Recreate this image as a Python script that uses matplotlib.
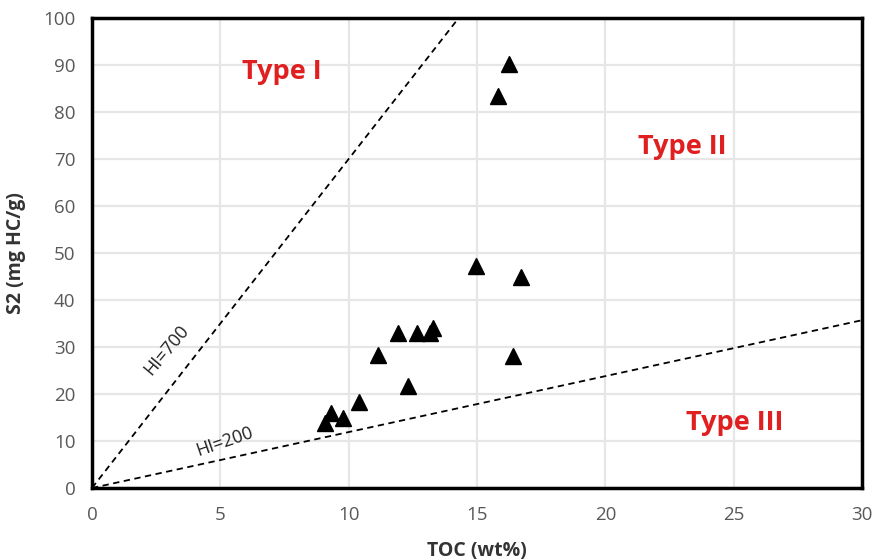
import matplotlib
matplotlib.use("Agg")
import matplotlib.pyplot as plt
import numpy as np

# Data
toc = [16.25, 15.8, 14.95, 16.7, 16.4, 13.27, 13.15, 12.68, 11.92, 11.16, 12.31, 10.42, 9.33, 9.79, 9.08]
s2 = [90.3, 83.5, 47.2, 45.0, 28.0, 34.0, 33.0, 33.0, 33.0, 28.4, 21.7, 18.2, 15.9, 14.8, 13.8]

line_labels = ["HI=700", "HI=200"]
line_slopes = [7.0, 1.19]   # S2 per unit TOC as drawn

region_labels = ["Type I", "Type II", "Type III"]
region_x = [7.4, 23.0, 25.05]
region_y = [88.5, 72.6, 13.8]

xticks = [0, 5, 10, 15, 20, 25, 30]
yticks = list(range(0, 101, 10))

plt.rcParams['font.family'] = ['Open Sans', 'DejaVu Sans']

fig = plt.figure(figsize=(8.76, 5.59), dpi=100)
ax = fig.add_axes([92/876, 71/559, 770/876, 470/559])

ax.set_xlim(0, 30)
ax.set_ylim(0, 100)
ax.set_xticks(xticks)
ax.set_yticks(yticks)
ax.grid(True, color='#e6e6e6', linewidth=1.6)
ax.set_axisbelow(True)
for sp in ax.spines.values():
    sp.set_linewidth(2.5)
    sp.set_color('black')
ax.tick_params(length=0, labelsize=13.5, colors='#595959')
ax.tick_params(axis='x', pad=13)
ax.tick_params(axis='y', pad=12)

# HI lines
xx = np.array([0, 30])
for slope in line_slopes:
    ax.plot(xx, slope * xx, linestyle=(0, (3.5, 2.5)), color='black', linewidth=1.3, clip_on=True)

ax.text(2.92, 29.4, line_labels[0], rotation=50, fontsize=13, ha='center', va='center', color='#222222')
ax.text(5.18, 9.8, line_labels[1], rotation=19, fontsize=13, ha='center', va='center', color='#222222')

ax.plot(toc, s2, linestyle='none', marker='^', markersize=11, color='black')

for lab, x, y in zip(region_labels, region_x, region_y):
    ax.text(x, y, lab, fontsize=19.5, fontweight='bold', color='#e02020', ha='center', va='center')

ax.set_xlabel("TOC (wt%)", fontsize=14, fontweight='bold', color='#333333', labelpad=12)
ax.set_ylabel("S2 (mg HC/g)", fontsize=14, fontweight='bold', color='#333333', labelpad=12)

fig.savefig("out.png", dpi=100)
